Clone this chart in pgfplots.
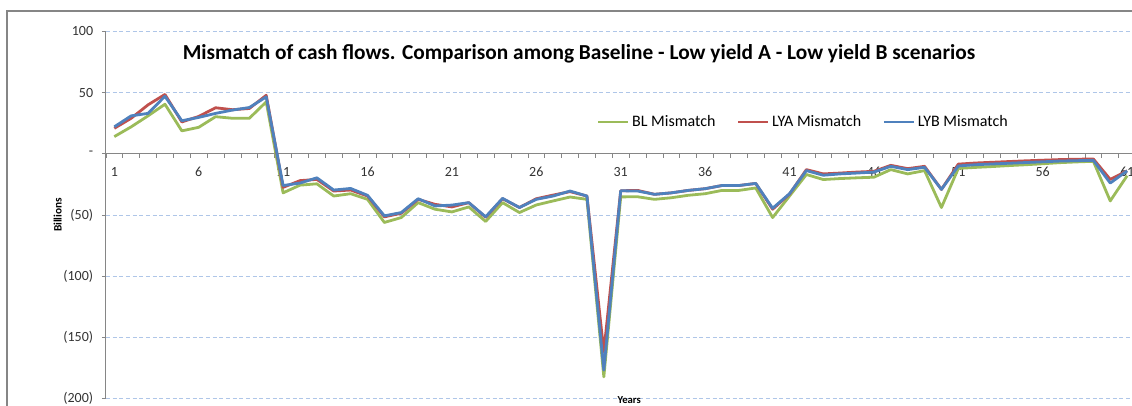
\documentclass[border=0pt]{standalone}
\usepackage{pgfplots}
\usepackage{pgfplotstable}
\pgfplotsset{compat=1.18}
\usepackage{fontspec}
\setmainfont{Carlito}

\definecolor{blgreen}{RGB}{155,187,89}
\definecolor{lyared}{RGB}{192,80,77}
\definecolor{lybblue}{RGB}{79,129,189}
\definecolor{gridblue}{RGB}{175,198,232}
\definecolor{axisgray}{RGB}{134,134,134}

% mismatch of cash flows, billions, per year
\pgfplotstableread{
yr   bl      lya     lyb
1    14      20.8    22
2    22      29      31
3    31      40      33
4    40.5    48.5    47
5    18.7    26      27
6    21.6    30.5    29.7
7    30.3    37.6    33
8    29      36      35.7
9    29      37      37.8
10   42.4    47.8    46.5
11   -32     -27.5   -26
12   -25.7   -22     -24
13   -24.6   -21     -19.7
14   -34.6   -30.5   -29.7
15   -32.7   -29.7   -28.4
16   -37.3   -34.6   -34
17   -56.2   -51.6   -50.8
18   -52.2   -48.7   -48.1
19   -40     -37.3   -36.8
20   -45.4   -41.4   -42.7
21   -47.6   -43.5   -42
22   -43.5   -40     -40
23   -55.4   -52     -51.6
24   -40     -36.8   -36.5
25   -48.1   -44     -44
26   -41.9   -36.8   -37.3
27   -38.6   -33.8   -34.6
28   -35.4   -31     -30.5
29   -37.3   -34.6   -34.6
30   -182.5  -162    -177
31   -35.3   -30.3   -30.3
32   -35.2   -30     -30.5
33   -37.3   -33.2   -33.2
34   -36     -32     -32
35   -34     -30     -30
36   -32.7   -28.6   -28.6
37   -30     -26     -26
38   -30     -26     -26
39   -28     -24.3   -24.3
40   -52.2   -45.4   -44.6
41   -34.6   -33     -32.7
42   -17     -13     -13.8
43   -21.1   -16.5   -17.6
44   -20.3   -15.8   -16.5
45   -19.7   -15     -15.8
46   -19.2   -14.4   -15
47   -13     -9.5    -10.3
48   -16.5   -12.2   -13
49   -13.8   -10.3   -11.1
50   -44     -29.2   -29.2
51   -12     -8.5    -10
52   -11.2   -7.6    -9
53   -10.5   -7      -8.4
54   -9.7    -6.4    -7.8
55   -9      -5.8    -7.2
56   -8.2    -5.3    -6.6
57   -7.3    -4.8    -6
58   -6.7    -4.5    -5.7
59   -6.2    -4.3    -5.4
60   -38.6   -21     -24
61   -18     -14     -14
}\mismatch

\begin{document}
\begin{tikzpicture}
\path[use as bounding box] (0pt,0pt) rectangle (849pt,304.5pt);
% chart area frame (cut off at right and bottom)
\draw[axisgray, line width=1pt] (5.25pt,-5pt) -- (5.25pt,296.25pt) -- (860pt,296.25pt);

\begin{axis}[
  at={(79.4pt,5.8pt)}, anchor=south west,
  scale only axis,
  width=769.6pt, height=275.1pt,
  xmin=0.5, xmax=61.29,
  ymin=-200, ymax=100,
  axis x line=middle, axis y line=left,
  axis line style={axisgray, line width=0.6pt, -},
  xtick={1,6,...,61},
  minor xtick={0.5,1.5,...,61.5},
  ytick={-200,-150,...,100},
  yticklabels={(200),(150),(100),(50),-,50,100},
  tick align=outside,
  major tick length=3pt, minor tick length=3pt,
  major x tick style={draw=none},
  minor x tick style={axisgray, line width=0.5pt},
  major y tick style={axisgray, line width=0.5pt},
  ymajorgrids,
  major grid style={gridblue, densely dashed, line width=0.5pt},
  tick label style={font=\fontsize{10.5}{12}\selectfont, text=black!80},
  xticklabel style={yshift=-3.5pt},
  yticklabel style={xshift=-3pt},
  /pgf/number format/assume math mode=true,
  xlabel={Years},
  xlabel style={at={(axis description cs:0.51,-0.017)}, anchor=south, inner sep=0.5pt, font=\bfseries\fontsize{8}{8}\selectfont},
  ylabel={Billions},
  ylabel style={at={(axis description cs:-0.047,0.5)}, anchor=center, rotate=0, font=\bfseries\fontsize{8.5}{9}\selectfont},
  legend columns=3,
  legend style={at={(axis description cs:0.68,0.753)}, anchor=center, draw=none, fill=none,
    font=\fontsize{12}{14}\selectfont,
    /tikz/every even column/.append style={column sep=14pt}},
  legend image code/.code={\draw[#1, line width=2pt] (0pt,0pt) -- (22.5pt,0pt);},
  every axis plot/.append style={line width=2.1pt, line join=round},
  clip=true,
]
\addplot[blgreen] table[x=yr, y=bl] {\mismatch};
\addlegendentry{BL Mismatch}
\addplot[lyared] table[x=yr, y=lya] {\mismatch};
\addlegendentry{LYA Mismatch}
\addplot[lybblue] table[x=yr, y=lyb] {\mismatch};
\addlegendentry{LYB Mismatch}
\end{axis}

\node[font=\bfseries\fontsize{16}{18}\selectfont] at (434.25pt,264pt)
  {Mismatch of cash flows. Comparison among Baseline - Low yield A - Low yield B scenarios};
\end{tikzpicture}
\end{document}
